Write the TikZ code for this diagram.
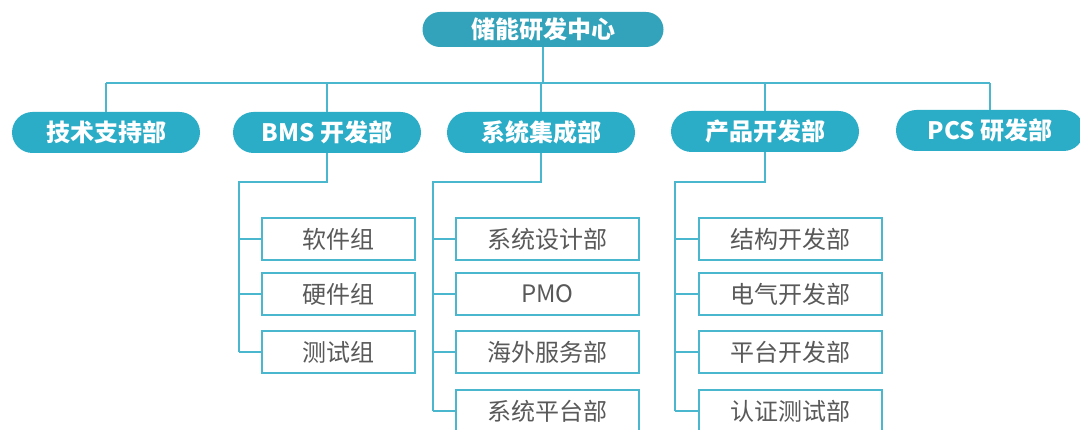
\documentclass[tikz,border=0pt]{standalone}
\usepackage{fontspec}
\setmainfont{Noto Sans CJK SC}

\definecolor{hubteal}{HTML}{32A3BA}
\definecolor{deptteal}{HTML}{2BACC7}
\definecolor{linkteal}{HTML}{4AB7CE}
\definecolor{unitgray}{HTML}{595959}

\begin{document}
\begin{tikzpicture}[x = 1pt, y = -1pt,
	hub/.style = {fill = hubteal, rounded corners = 17.5pt, minimum width = 241pt, minimum height = 35pt, inner sep = 0pt, text = white, font = \bfseries\fontsize{24}{24}\selectfont},
	dept/.style = {fill = deptteal, rounded corners = 20.5pt, minimum width = 188pt, minimum height = 41pt, inner sep = 0pt, text = white, font = \bfseries\fontsize{24}{24}\selectfont},
	unit/.style = {draw = linkteal, line width = 1.5pt, fill = white, minimum height = 42pt, inner sep = 0pt, text = unitgray, font = \fontsize{24}{24}\selectfont},
	link/.style = {draw = linkteal, line width = 1.5pt}]
	%	canvas
	\useasboundingbox (0, 0) rectangle (1080, 430);
	\clip (0, 0) rectangle (1080, 430);
	
	%	top level
	\node[hub] (hub) at (543, 29.5) {储能研发中心};
	\coordinate (bus) at (543, 83);
	
	%	departments
	\node[dept] (tech) at (106, 132.5) {技术支持部};
	\node[dept] (bms)  at (327, 132.5) {BMS 开发部};
	\node[dept] (sys)  at (541, 132.5) {系统集成部};
	\node[dept] (prod) at (765, 131.5) {产品开发部};
	\node[dept] (pcs)  at (990, 130.5) {PCS 研发部};
	
	\draw[link] (hub.south) -- (bus);
	\draw[link] (tech.north |- bus) -- (pcs.north |- bus);
	\foreach \d in {tech, bms, sys, prod, pcs}
		\draw[link] (\d.north) -- (\d.north |- bus);
	
	%	BMS groups
	\coordinate (bmsknee) at (239, 182);
	\foreach \n/\t/\y in {bms1/软件组/239, bms2/硬件组/294, bms3/测试组/352}
		\node[unit, minimum width = 153pt] (\n) at (338.5, \y) {\t};
	\draw[link] (bms.south) |- (bmsknee) -- (bmsknee |- bms3.west);
	\foreach \n in {bms1, bms2, bms3}
		\draw[link] (bmsknee |- \n.west) -- (\n.west);
	
	%	system integration
	\coordinate (sysknee) at (433, 182);
	\foreach \n/\t/\y in {sys1/系统设计部/239, sys2/PMO/294, sys3/海外服务部/352, sys4/系统平台部/411}
		\node[unit, minimum width = 183pt] (\n) at (547.5, \y) {\t};
	\draw[link] (sys.south) |- (sysknee) -- (sysknee |- sys4.west);
	\foreach \n in {sys1, sys2, sys3, sys4}
		\draw[link] (sysknee |- \n.west) -- (\n.west);
	
	%	product development
	\coordinate (prodknee) at (675, 182);
	\foreach \n/\t/\y in {prod1/结构开发部/239, prod2/电气开发部/294, prod3/平台开发部/352, prod4/认证测试部/411}
		\node[unit, minimum width = 183pt] (\n) at (790.5, \y) {\t};
	\draw[link] (prod.south) |- (prodknee) -- (prodknee |- prod4.west);
	\foreach \n in {prod1, prod2, prod3, prod4}
		\draw[link] (prodknee |- \n.west) -- (\n.west);
\end{tikzpicture}
\end{document}
